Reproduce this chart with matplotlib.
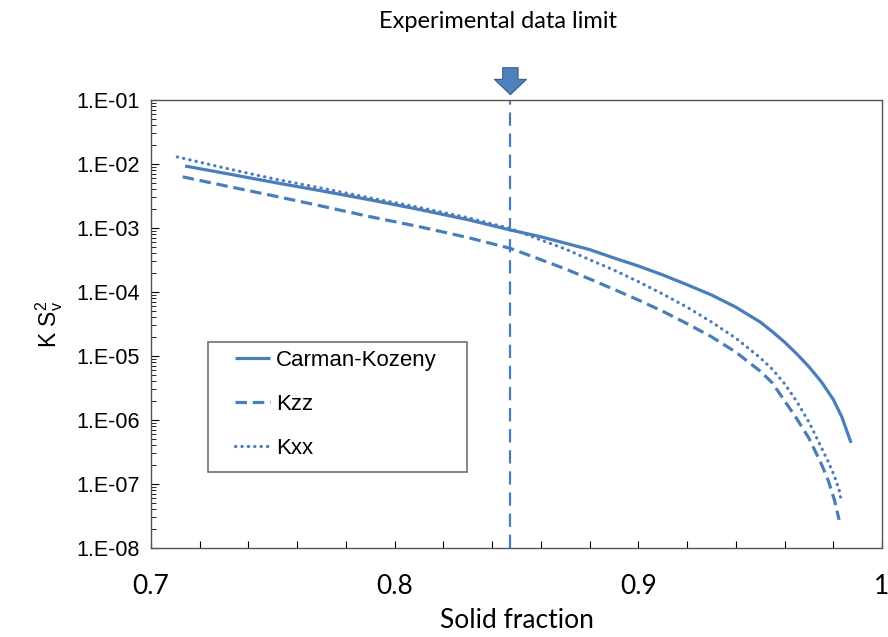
"""Przepuszczalność K*Sv^2 w funkcji udziału fazy stałej (Carman-Kozeny, Kzz, Kxx)."""

import numpy as np
import matplotlib.pyplot as plt
from matplotlib.patches import Rectangle
from matplotlib.ticker import MultipleLocator, FuncFormatter, LogLocator, NullFormatter


# Wartości
ck_x = [0.714, 0.73, 0.75, 0.77, 0.79, 0.81, 0.83, 0.8475, 0.86, 0.87, 0.88, 0.89, 0.90,
        0.91, 0.92, 0.93, 0.94, 0.95, 0.955, 0.96, 0.965, 0.97, 0.975, 0.98, 0.9835, 0.9873]
ck_y = [9.3e-3, 7.2e-3, 5.2e-3, 3.8e-3, 2.75e-3, 1.95e-3, 1.35e-3, 9.3e-4, 7.3e-4, 5.8e-4,
        4.6e-4, 3.4e-4, 2.55e-4, 1.85e-4, 1.3e-4, 9.0e-5, 5.8e-5, 3.4e-5, 2.4e-5, 1.65e-5,
        1.08e-5, 6.8e-6, 4.0e-6, 2.1e-6, 1.12e-6, 4.4e-7]

kzz_x = [0.713, 0.73, 0.75, 0.77, 0.79, 0.81, 0.83, 0.8475, 0.86, 0.87, 0.88, 0.89, 0.90,
         0.91, 0.92, 0.93, 0.94, 0.95, 0.955, 0.96, 0.965, 0.97, 0.975, 0.978, 0.9805, 0.9824]
kzz_y = [6.3e-3, 4.6e-3, 3.2e-3, 2.2e-3, 1.5e-3, 1.05e-3, 7.1e-4, 4.8e-4, 3.2e-4, 2.3e-4,
         1.6e-4, 1.1e-4, 7.5e-5, 5.0e-5, 3.2e-5, 2.0e-5, 1.15e-5, 5.8e-6, 3.8e-6, 2.0e-6,
         1.05e-6, 5.2e-7, 2.1e-7, 1.12e-7, 5.6e-8, 2.75e-8]

kxx_x = [0.7108, 0.73, 0.75, 0.77, 0.79, 0.81, 0.83, 0.8475, 0.86, 0.87, 0.88, 0.89, 0.90,
         0.91, 0.92, 0.93, 0.94, 0.95, 0.955, 0.96, 0.965, 0.97, 0.975, 0.978, 0.9805,
         0.9824, 0.9832]
kxx_y = [1.29e-2, 8.7e-3, 5.9e-3, 4.2e-3, 2.95e-3, 2.1e-3, 1.45e-3, 9.8e-4, 6.5e-4, 4.7e-4,
         3.2e-4, 2.2e-4, 1.45e-4, 9.3e-5, 5.8e-5, 3.4e-5, 1.9e-5, 9.4e-6, 6.2e-6, 3.7e-6,
         1.95e-6, 9.3e-7, 3.8e-7, 2.2e-7, 1.32e-7, 8.1e-8, 5.6e-8]

LIMIT_X = 0.8475
series_labels = ["Carman-Kozeny", "Kzz", "Kxx"]

BLUE = "#4A7EBB"
W, H = 888, 637

fig = plt.figure(figsize=(W / 100, H / 100), dpi=100)
ax = fig.add_axes([151 / W, 1 - 548 / H, 731 / W, 448 / H])

l1, = ax.plot(ck_x, ck_y, color=BLUE, lw=2.3, solid_capstyle="butt")
l2, = ax.plot(kzz_x, kzz_y, color=BLUE, lw=2.3, linestyle=(0, (3.6, 1.8)))
l3, = ax.plot(kxx_x, kxx_y, color=BLUE, lw=2.3, linestyle=(0, (0.1, 1.9)),
              dash_capstyle="round")

# granica danych eksperymentalnych
ax.axvline(LIMIT_X, color=BLUE, lw=1.6, linestyle=(0, (6, 3.5)))

ax.set_yscale("log")
ax.set_xlim(0.7, 1.0)
ax.set_ylim(1e-8, 1e-1)

ax.xaxis.set_major_locator(MultipleLocator(0.1))
ax.xaxis.set_minor_locator(MultipleLocator(0.02))
ax.xaxis.set_major_formatter(FuncFormatter(lambda v, _: f"{v:g}"))
ax.tick_params(axis="x", which="both", direction="in", length=5, width=0.8, pad=19,
               labelsize=19, labelfontfamily="Lato", top=False)

ax.yaxis.set_major_locator(LogLocator(base=10, numticks=12))
ax.yaxis.set_minor_locator(LogLocator(base=10, subs=np.arange(2, 10), numticks=12))
ax.yaxis.set_minor_formatter(NullFormatter())
ax.yaxis.set_major_formatter(FuncFormatter(lambda v, _: "1.E-%02d" % round(-np.log10(v))))
ax.tick_params(axis="y", which="major", direction="in", length=6, width=0.8, pad=8,
               labelsize=15.5, labelfontfamily="Liberation Sans", right=False)
ax.tick_params(axis="y", which="minor", direction="in", length=3.5, width=0.6, right=False)

for sp in ax.spines.values():
    sp.set_color("#555555")
    sp.set_linewidth(1.0)

ax.set_xlabel("Solid fraction", family="Lato", fontsize=19, labelpad=6)
ax.set_ylabel(r"K S$_\mathregular{v}^\mathregular{2}$", family="Liberation Sans",
              fontsize=16.5, labelpad=8)

# legenda: ramka rysowana osobno, bo ma inne marginesy poziome i pionowe
ax.add_patch(Rectangle((0.078, 0.170), 0.354, 0.290, transform=ax.transAxes,
                       fill=False, ec="#666666", lw=1.1, zorder=4))
ax.legend([l1, l2, l3], series_labels, loc="upper left", bbox_to_anchor=(0.115, 0.443),
          frameon=False, borderpad=0, borderaxespad=0, handlelength=1.55,
          handletextpad=0.3, labelspacing=1.05, prop={"family": "Liberation Sans", "size": 16})

ax.annotate("", xy=(LIMIT_X, 1.012), xycoords=("data", "axes fraction"),
            xytext=(LIMIT_X, 1.072), textcoords=("data", "axes fraction"),
            arrowprops=dict(arrowstyle="simple,head_length=0.55,head_width=1.15,tail_width=0.55",
                            mutation_scale=20, fc="#4F81BD", ec="#385D8A", lw=0.8,
                            shrinkA=0, shrinkB=0))
fig.text(498 / W, 1 - 22 / H, "Experimental data limit", ha="center", va="center",
         family="Lato", fontsize=17)

fig.savefig("out.png", dpi=100)
